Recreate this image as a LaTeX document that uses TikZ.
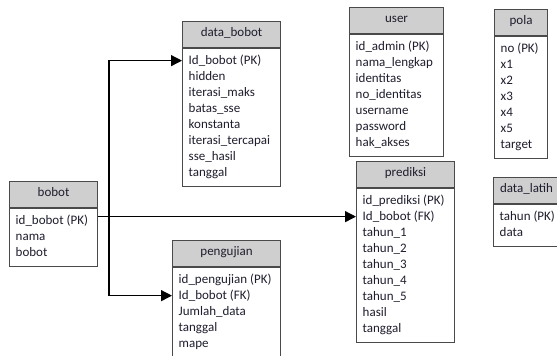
\documentclass[tikz,border=0pt]{standalone}
\usepackage{fontspec}
\setmainfont{Carlito}
\usetikzlibrary{arrows.meta}
\definecolor{boxline}{HTML}{4A4A4A}
\definecolor{headfill}{HTML}{CFCFCF}
\definecolor{txtcol}{HTML}{1E1E2E}
\tikzset{
  tbox/.style={draw=boxline, line width=1.1pt, inner sep=0pt, fill=white},
  thead/.style={tbox, fill=headfill},
  rowtxt/.style={anchor=mid west, inner sep=0pt, font=\fontsize{13}{15}\selectfont, text=txtcol},
  headtxt/.style={anchor=mid, inner sep=0pt, font=\fontsize{13}{15}\selectfont, text=txtcol},
  rel/.style={draw=black, line width=1.3pt, -{Triangle[length=11pt,width=11pt]}},
}
% #1 name, #2 left, #3 top, #4 width, #5 title, #6 height rows, #7 rows
\newcommand{\ertable}[7]{%
  \node[thead, anchor=north west, minimum width=#4pt, minimum height=26pt] (#1-h) at (#2,#3) {};
  \node[headtxt] (#1-t) at (#1-h.center) {#5};
  \node[tbox, anchor=north west, minimum width=#4pt, minimum height={(16*#6+10)*1pt}] (#1-b) at (#1-h.south west) {};
  \foreach \r [count=\i] in {#7} {
    \node[rowtxt] (#1-r\i) at ([xshift=6.5pt,yshift={-(14+16*(\i-1))*1pt}]#1-h.south west) {\r};
  }
}
\begin{document}
\begin{tikzpicture}[x=1pt,y=-1pt]
\useasboundingbox (0,0) rectangle (557,356);
\fill[white] (0,0) rectangle (557,356);
\clip (0,0) rectangle (557,356);
\ertable{db}{182}{21}{98}{data\_bobot}{8}{Id\_bobot (PK),hidden,iterasi\_maks,batas\_sse,konstanta,iterasi\_tercapai,sse\_hasil,tanggal}
\ertable{us}{349}{7}{94}{user}{7}{id\_admin (PK),nama\_lengkap,identitas,no\_identitas,username,password,hak\_akses}
\ertable{po}{494}{9}{53}{pola}{7}{no (PK),x1,x2,x3,x4,x5,target}
\ertable{bb}{9}{181}{88}{bobot}{3}{id\_bobot (PK),nama,bobot}
\ertable{pr}{356}{161}{98}{prediksi}{9}{id\_prediksi (PK),Id\_bobot (FK),tahun\_1,tahun\_2,tahun\_3,tahun\_4,tahun\_5,hasil,tanggal}
\ertable{pg}{172}{240}{108}{pengujian}{6}{id\_pengujian (PK),Id\_bobot (FK),Jumlah\_data,tanggal,mape}
\ertable{dl}{493}{177}{66}{data\_latih}{2}{tahun (PK),data}
\coordinate (jn) at ([xshift=11pt]bb-b.east |- pr-r2);
\draw[rel] (bb-b.east |- jn) -- (pr-b.west |- jn);
\draw[rel] (jn) |- (db-b.west |- db-r1);
\draw[rel] (jn) |- (pg-b.west |- pg-r2);
\end{tikzpicture}
\end{document}
